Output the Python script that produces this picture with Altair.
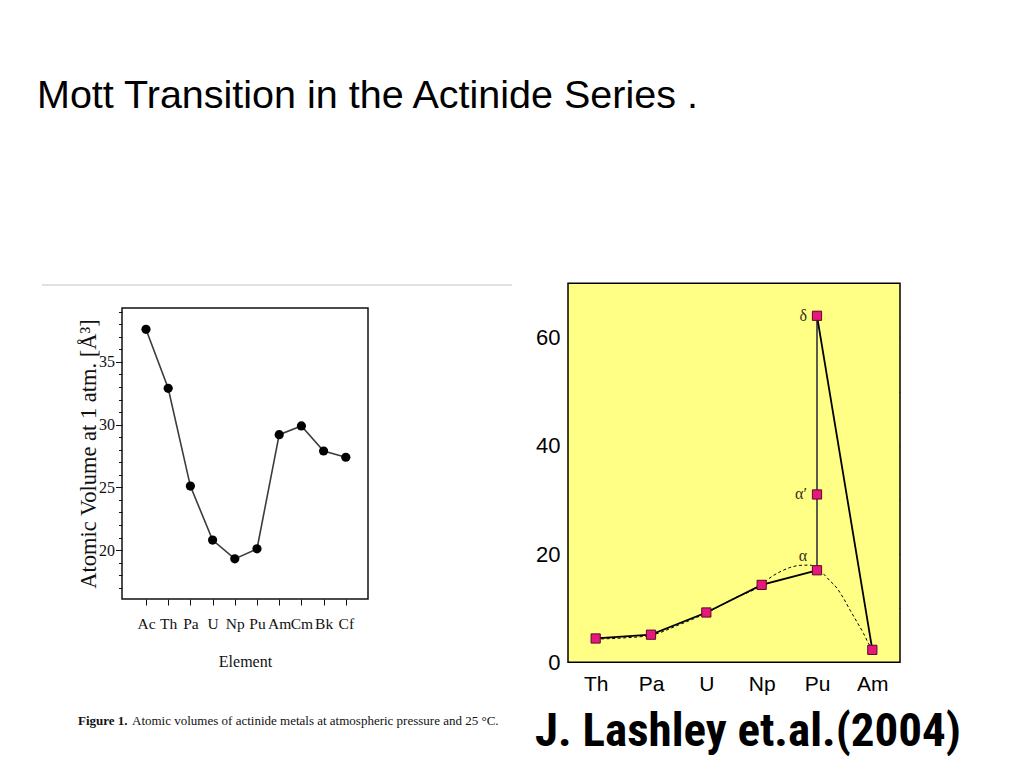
import json
import altair as alt
import pandas as pd

# ---------------- text ----------------
slide_title = "Mott Transition in the Actinide Series ."
caption_bold = "Figure 1."
caption_rest = "Atomic volumes of actinide metals at atmospheric pressure and 25 °C."
citation = "J. Lashley et.al.(2004)"

# ---------------- left figure ----------------
left_elements = ["Ac", "Th", "Pa", "U", "Np", "Pu", "Am", "Cm", "Bk", "Cf"]
left_volume = [37.6, 32.9, 25.1, 20.8, 19.3, 20.1, 29.2, 29.9, 27.9, 27.4]
left_x_title = "Element"
left_y_title = "Atomic Volume at 1 atm. [Å³]"
left_y_major = [20, 25, 30, 35]
left_y_minor = list(range(17, 40))
left_x_domain = [-1.08, 10.0]
left_y_domain = [16.1, 39.3]

# ---------------- right figure ----------------
right_elements = ["Th", "Pa", "U", "Np", "Pu", "Am"]
right_point_element = ["Th", "Pa", "U", "Np", "Pu", "Pu", "Pu", "Am"]
right_point_value = [4.4, 5.1, 9.2, 14.3, 17.0, 31.0, 64.0, 2.3]
right_point_phase = ["", "", "", "", "α", "α′", "δ", ""]
right_paths = {"a": [0, 1, 2, 3, 4], "b": [4, 5, 6], "c": [6, 7]}
right_y_labels = [0, 20, 40, 60]
right_y_ticks_right = [10, 20, 30, 40, 50, 60]
right_x_top_ticks = [0, 0.5, 1, 1.5, 2, 2.5, 3, 3.5, 4, 4.5, 5]
right_x_domain = [-0.5, 5.5]
right_y_domain = [0, 70]
# dashed guide curve (position along the element axis, value)
curve_pos = [0, 0.5, 1, 1.5, 2, 2.5, 3, 3.15, 3.33, 3.51, 3.69, 3.87, 4.0, 4.11,
             4.23, 4.36, 4.48, 4.6, 4.72, 4.84, 4.93, 5.0]
curve_val = [4.3, 4.5, 5.0, 6.9, 9.1, 11.8, 14.3, 15.6, 16.7, 17.5, 17.9, 17.95, 17.4, 16.4,
             15.1, 13.7, 11.8, 9.6, 7.5, 5.35, 3.5, 2.3]

W, H = 1008, 752
SERIF = "Liberation Serif"
SANS = "Liberation Sans"

# ---------------- scales (pixel ranges inside the single canvas) ----------------
LX = alt.Scale(domain=left_x_domain, range=[114, 360], nice=False, zero=False)
LY = alt.Scale(domain=left_y_domain, range=[591, 300], nice=False, zero=False)
RX = alt.Scale(domain=right_x_domain, range=[560, 892], nice=False, zero=False)
RY = alt.Scale(domain=right_y_domain, range=[654.3, 275.3], nice=False, zero=False)

# ---------------- left data ----------------
ldf = pd.DataFrame({"i": list(range(len(left_elements))), "el": left_elements, "v": left_volume})
lframe = pd.DataFrame({"x": [left_x_domain[0]], "x2": [left_x_domain[1]],
                       "y": [left_y_domain[0]], "y2": [left_y_domain[1]]})

l_frame = alt.Chart(lframe).mark_rect(filled=False, stroke="#111111", strokeWidth=1.5).encode(
    x=alt.X("x:Q", scale=LX, axis=None),
    x2="x2:Q",
    y=alt.Y("y:Q", scale=LY, axis=None),
    y2="y2:Q",
)

l_line = alt.Chart(ldf).mark_line(color="#3c3c3c", strokeWidth=1.6).encode(
    x=alt.X("i:Q", scale=LX, axis=alt.Axis(
        orient="bottom", offset=-(H - 591), values=list(range(len(left_elements))),
        labelExpr=json.dumps(left_elements) + "[datum.value]",
        tickSize=6, tickColor="#111", domain=False, grid=False,
        labelFont=SERIF, labelFontSize=15.5, labelColor="#111", labelBaseline="alphabetic",
        labelPadding=23, labelAngle=0, labelOverlap=False, labelBound=False, labelFlush=False,
        title=left_x_title, titleFont=SERIF, titleFontSize=16, titleFontWeight="normal",
        titleColor="#111", titleBaseline="alphabetic", titleY=67)),
    y=alt.Y("v:Q", scale=LY, axis=alt.Axis(
        orient="left", offset=-114, values=left_y_major,
        tickSize=6.5, tickColor="#111", domain=False, grid=False,
        labelFont=SERIF, labelFontSize=16, labelColor="#111", labelPadding=1,
        labelOverlap=False, labelFlush=False,
        title=left_y_title, titleFont=SERIF, titleFontSize=22.5, titleFontWeight="normal",
        titleColor="#111", titleBaseline="alphabetic", titleX=-27)),
)

l_pts = alt.Chart(ldf).mark_point(shape="circle", filled=True, size=85, color="#000000", opacity=1).encode(
    x=alt.X("i:Q", scale=LX, axis=None),
    y=alt.Y("v:Q", scale=LY, axis=alt.Axis(
        orient="left", offset=-114, values=left_y_minor, tickSize=3.5, tickColor="#111",
        labels=False, domain=False, grid=False, title=None)),
)

left = alt.layer(l_frame, l_line, l_pts).resolve_axis(x="independent", y="independent")

# ---------------- right data ----------------
pidx = [right_elements.index(e) for e in right_point_element]
pdf = pd.DataFrame({"i": pidx, "v": right_point_value, "phase": right_point_phase})
rows = []
for seg, ids in right_paths.items():
    for k, j in enumerate(ids):
        rows.append({"seg": seg, "ord": k, "i": pidx[j], "v": right_point_value[j]})
sdf = pd.DataFrame(rows)
cdf = pd.DataFrame({"i": curve_pos, "v": curve_val})
rframe = pd.DataFrame({"x": [right_x_domain[0]], "x2": [right_x_domain[1]],
                       "y": [right_y_domain[0]], "y2": [right_y_domain[1]]})

r_frame = alt.Chart(rframe).mark_rect(fill="#FFFF85", stroke="#000000", strokeWidth=1.5).encode(
    x=alt.X("x:Q", scale=RX, axis=None),
    x2="x2:Q",
    y=alt.Y("y:Q", scale=RY, axis=None),
    y2="y2:Q",
)

r_dash = alt.Chart(cdf).mark_line(color="#000000", strokeWidth=1, strokeDash=[3, 2.5],
                                  interpolate="monotone").encode(
    x=alt.X("i:Q", scale=RX, axis=alt.Axis(
        orient="bottom", offset=-(H - 654.3), values=list(range(len(right_elements))),
        labelExpr=json.dumps(right_elements) + "[datum.value]",
        ticks=False, tickSize=0, domain=False, grid=False,
        labelFont=SANS, labelFontSize=21, labelColor="#000", labelBaseline="alphabetic",
        labelPadding=28, labelAngle=0, labelOverlap=False, title=None)),
    y=alt.Y("v:Q", scale=RY, axis=alt.Axis(
        orient="left", offset=-560, values=right_y_labels,
        ticks=False, tickSize=0, domain=False, grid=False, labelOverlap=False,
        labelFont=SANS, labelFontSize=22, labelColor="#000", labelPadding=8, title=None)),
)

r_solid = alt.Chart(sdf).mark_line(strokeWidth=1.8).encode(
    x=alt.X("i:Q", scale=RX, axis=alt.Axis(
        orient="top", offset=-654.3, values=list(range(len(right_elements))),
        tickSize=6, tickColor="#000", labels=False, domain=False, grid=False, title=None)),
    y=alt.Y("v:Q", scale=RY, axis=alt.Axis(
        orient="right", offset=-(W - 560), values=right_y_labels,
        tickSize=7, tickColor="#000", labels=False, domain=False, grid=False, title=None)),
    color=alt.Color("seg:N", scale=alt.Scale(domain=["a", "b", "c"],
                                             range=["#000000", "#4a4a4a", "#000000"]), legend=None),
    detail="seg:N",
    order="ord:Q",
)

r_pts = alt.Chart(pdf).mark_point(shape="square", filled=True, size=85, fill="#E8177D",
                                  stroke="#5a0a2a", strokeWidth=1, opacity=1).encode(
    x=alt.X("i:Q", scale=RX, axis=alt.Axis(
        orient="bottom", offset=-(H - 275.3), values=right_x_top_ticks,
        tickSize=6, tickColor="#000", labels=False, domain=False, grid=False, title=None)),
    y=alt.Y("v:Q", scale=RY, axis=alt.Axis(
        orient="left", offset=-892, values=right_y_ticks_right,
        tickSize=7, tickColor="#000", labels=False, domain=False, grid=False, title=None)),
)

r_txt_side = alt.Chart(pdf).transform_filter(
    "datum.phase == 'δ' || datum.phase == 'α′'"
).mark_text(font=SERIF, fontSize=16, color="#333322", align="right", baseline="alphabetic",
            dx=-10, dy=5).encode(
    x=alt.X("i:Q", scale=RX, axis=None),
    y=alt.Y("v:Q", scale=RY, axis=None),
    text="phase:N",
)

r_txt_top = alt.Chart(pdf).transform_filter("datum.phase == 'α'").mark_text(
    font=SERIF, fontSize=16, color="#333322", align="center", baseline="alphabetic",
    dx=-14, dy=-9).encode(
    x=alt.X("i:Q", scale=RX, axis=None),
    y=alt.Y("v:Q", scale=RY, axis=None),
    text="phase:N",
)

right = alt.layer(r_frame, r_dash, r_solid, r_pts, r_txt_side, r_txt_top).resolve_axis(
    x="independent", y="independent")

# ---------------- slide decorations / text ----------------
t_title = alt.Chart(pd.DataFrame({"t": [slide_title]})).mark_text(
    font=SANS, fontSize=39.5, color="#000", align="left", baseline="alphabetic").encode(
    text="t:N", x=alt.value(29), y=alt.value(99.5))

sep = alt.Chart(pd.DataFrame({"a": [0]})).mark_rule(color="#c4c4c4", strokeWidth=1).encode(
    x=alt.value(34), x2=alt.value(504), y=alt.value(277))

t_cap1 = alt.Chart(pd.DataFrame({"t": [caption_bold]})).mark_text(
    font=SERIF, fontSize=13, fontWeight="bold", color="#111", align="left",
    baseline="alphabetic").encode(text="t:N", x=alt.value(70), y=alt.value(717))

t_cap2 = alt.Chart(pd.DataFrame({"t": [caption_rest]})).mark_text(
    font=SERIF, fontSize=13, color="#111", align="left",
    baseline="alphabetic").encode(text="t:N", x=alt.value(124), y=alt.value(717))

t_cite = alt.Chart(pd.DataFrame({"t": [citation]})).mark_text(
    font="Liberation Sans Narrow, Arial Narrow, Roboto Condensed, DejaVu Sans Condensed, sans-serif",
    fontSize=47, fontWeight="bold", color="#000", align="left", baseline="alphabetic").encode(
    text="t:N", x=alt.value(527), y=alt.value(738))

chart = alt.layer(left, right, t_title, sep, t_cap1, t_cap2, t_cite).resolve_scale(
    x="independent", y="independent", color="independent"
).properties(
    width=W, height=H, padding=0, autosize=alt.AutoSizeParams(type="none"),
    background="white",
).configure_view(stroke=None).configure_axis(grid=False)

chart.save("out.html", embed_options={"renderer": "svg", "actions": False})
